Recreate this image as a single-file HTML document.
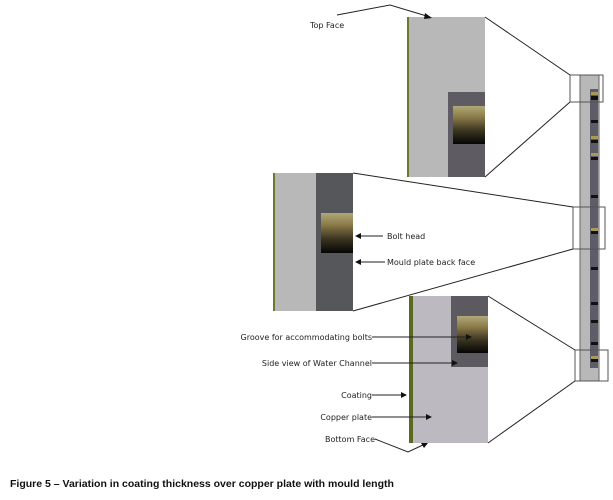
<!DOCTYPE html>
<html><head><style>
body{margin:0;width:613px;height:496px;background:#fff;overflow:hidden;font-family:"DejaVu Sans","Liberation Sans",sans-serif;}
</style></head><body>
<svg width="613" height="496" xmlns="http://www.w3.org/2000/svg">
<defs>
<linearGradient id="bolt" x1="0" y1="0" x2="0" y2="1">
<stop offset="0" stop-color="#b0a878"/><stop offset="0.3" stop-color="#8a7a48"/><stop offset="0.65" stop-color="#3a3420"/><stop offset="1" stop-color="#050505"/>
</linearGradient>
</defs>
<!-- top panel -->
<rect x="407" y="17" width="78" height="160" fill="#b8b8b8"/>
<rect x="407" y="17" width="2" height="160" fill="#6a7a2a"/>
<rect x="448" y="92" width="37" height="85" fill="#5e5c62"/>
<rect x="453" y="106" width="32" height="38" fill="url(#bolt)"/>
<!-- middle panel -->
<rect x="273" y="173" width="80" height="138" fill="#b8b8b8"/>
<rect x="273" y="173" width="2" height="138" fill="#6a7a2a"/>
<rect x="316" y="173" width="37" height="138" fill="#55575a"/>
<rect x="321" y="213" width="32" height="40" fill="url(#bolt)"/>
<!-- bottom panel -->
<rect x="409" y="296" width="79" height="147" fill="#bcbac0"/>
<rect x="409" y="296" width="4" height="147" fill="#5a6a20"/>
<rect x="451" y="296" width="37" height="71" fill="#5c5a60"/>
<rect x="457" y="316" width="31" height="37" fill="url(#bolt)"/>
<!-- strip -->
<rect x="580" y="75" width="19" height="306" fill="#b8b8b8" stroke="#666" stroke-width="1"/>
<rect x="590" y="89" width="8" height="279" fill="#5e5c68"/>
<g fill="#111">
<rect x="591" y="96" width="7" height="4"/><rect x="591" y="120" width="7" height="3"/><rect x="591" y="140" width="7" height="3"/><rect x="591" y="157" width="7" height="3"/><rect x="591" y="195" width="7" height="3"/><rect x="591" y="231" width="7" height="3"/><rect x="591" y="267" width="7" height="3"/><rect x="591" y="302" width="7" height="3"/><rect x="591" y="320" width="7" height="3"/><rect x="591" y="342" width="7" height="3"/><rect x="591" y="359" width="7" height="3"/>
</g>
<g fill="#a89a58"><rect x="591" y="92" width="7" height="3"/><rect x="591" y="136" width="7" height="3"/><rect x="591" y="153" width="7" height="3"/><rect x="591" y="228" width="7" height="3"/><rect x="591" y="356" width="7" height="3"/></g>
<g fill="none" stroke="#555" stroke-width="1">
<rect x="570" y="75" width="33" height="27"/>
<rect x="573" y="207" width="32" height="42"/>
<rect x="575" y="350" width="33" height="31"/>
</g>
<g stroke="#222" stroke-width="1" fill="none">
<line x1="485" y1="17" x2="570" y2="75"/><line x1="485" y1="177" x2="570" y2="102"/>
<line x1="353" y1="173" x2="573" y2="207"/><line x1="353" y1="311" x2="573" y2="249"/>
<line x1="488" y1="296" x2="575" y2="350"/><line x1="488" y1="443" x2="575" y2="381"/>
<polyline points="337,15 390,5 430,17"/>
<line x1="383" y1="236" x2="357" y2="236"/>
<line x1="385" y1="262" x2="357" y2="262"/>
<line x1="372" y1="337" x2="470" y2="337"/>
<line x1="372" y1="363" x2="456" y2="363"/>
<line x1="372" y1="395" x2="405" y2="395"/>
<line x1="372" y1="417" x2="430" y2="417"/>
<polyline points="375,439 408,452 425,444"/>
</g>
<g fill="#111">
<polygon points="432,18 425,13 424,19"/>
<polygon points="355,236 361,233 361,239"/>
<polygon points="355,262 361,259 361,265"/>
<polygon points="472,337 466,334 466,340"/>
<polygon points="458,363 452,360 452,366"/>
<polygon points="407,395 401,392 401,398"/>
<polygon points="432,417 426,414 426,420"/>
<polygon points="428,443 421,443 424,448"/>
</g>
<g font-size="8" fill="#222" font-family="DejaVu Sans, Liberation Sans, sans-serif">
<text x="310" y="28">Top Face</text>
<text x="387" y="239">Bolt head</text>
<text x="387" y="265">Mould plate back face</text>
<text x="372" y="340" text-anchor="end">Groove for accommodating bolts</text>
<text x="372" y="366" text-anchor="end">Side view of Water Channel</text>
<text x="372" y="398" text-anchor="end">Coating</text>
<text x="372" y="420" text-anchor="end">Copper plate</text>
<text x="375" y="442" text-anchor="end">Bottom Face</text>
</g>
<text x="10" y="487" font-size="10.5" font-weight="bold" fill="#111" font-family="Liberation Sans, sans-serif">Figure 5 – Variation in coating thickness over copper plate with mould length</text>
</svg>
</body></html>
